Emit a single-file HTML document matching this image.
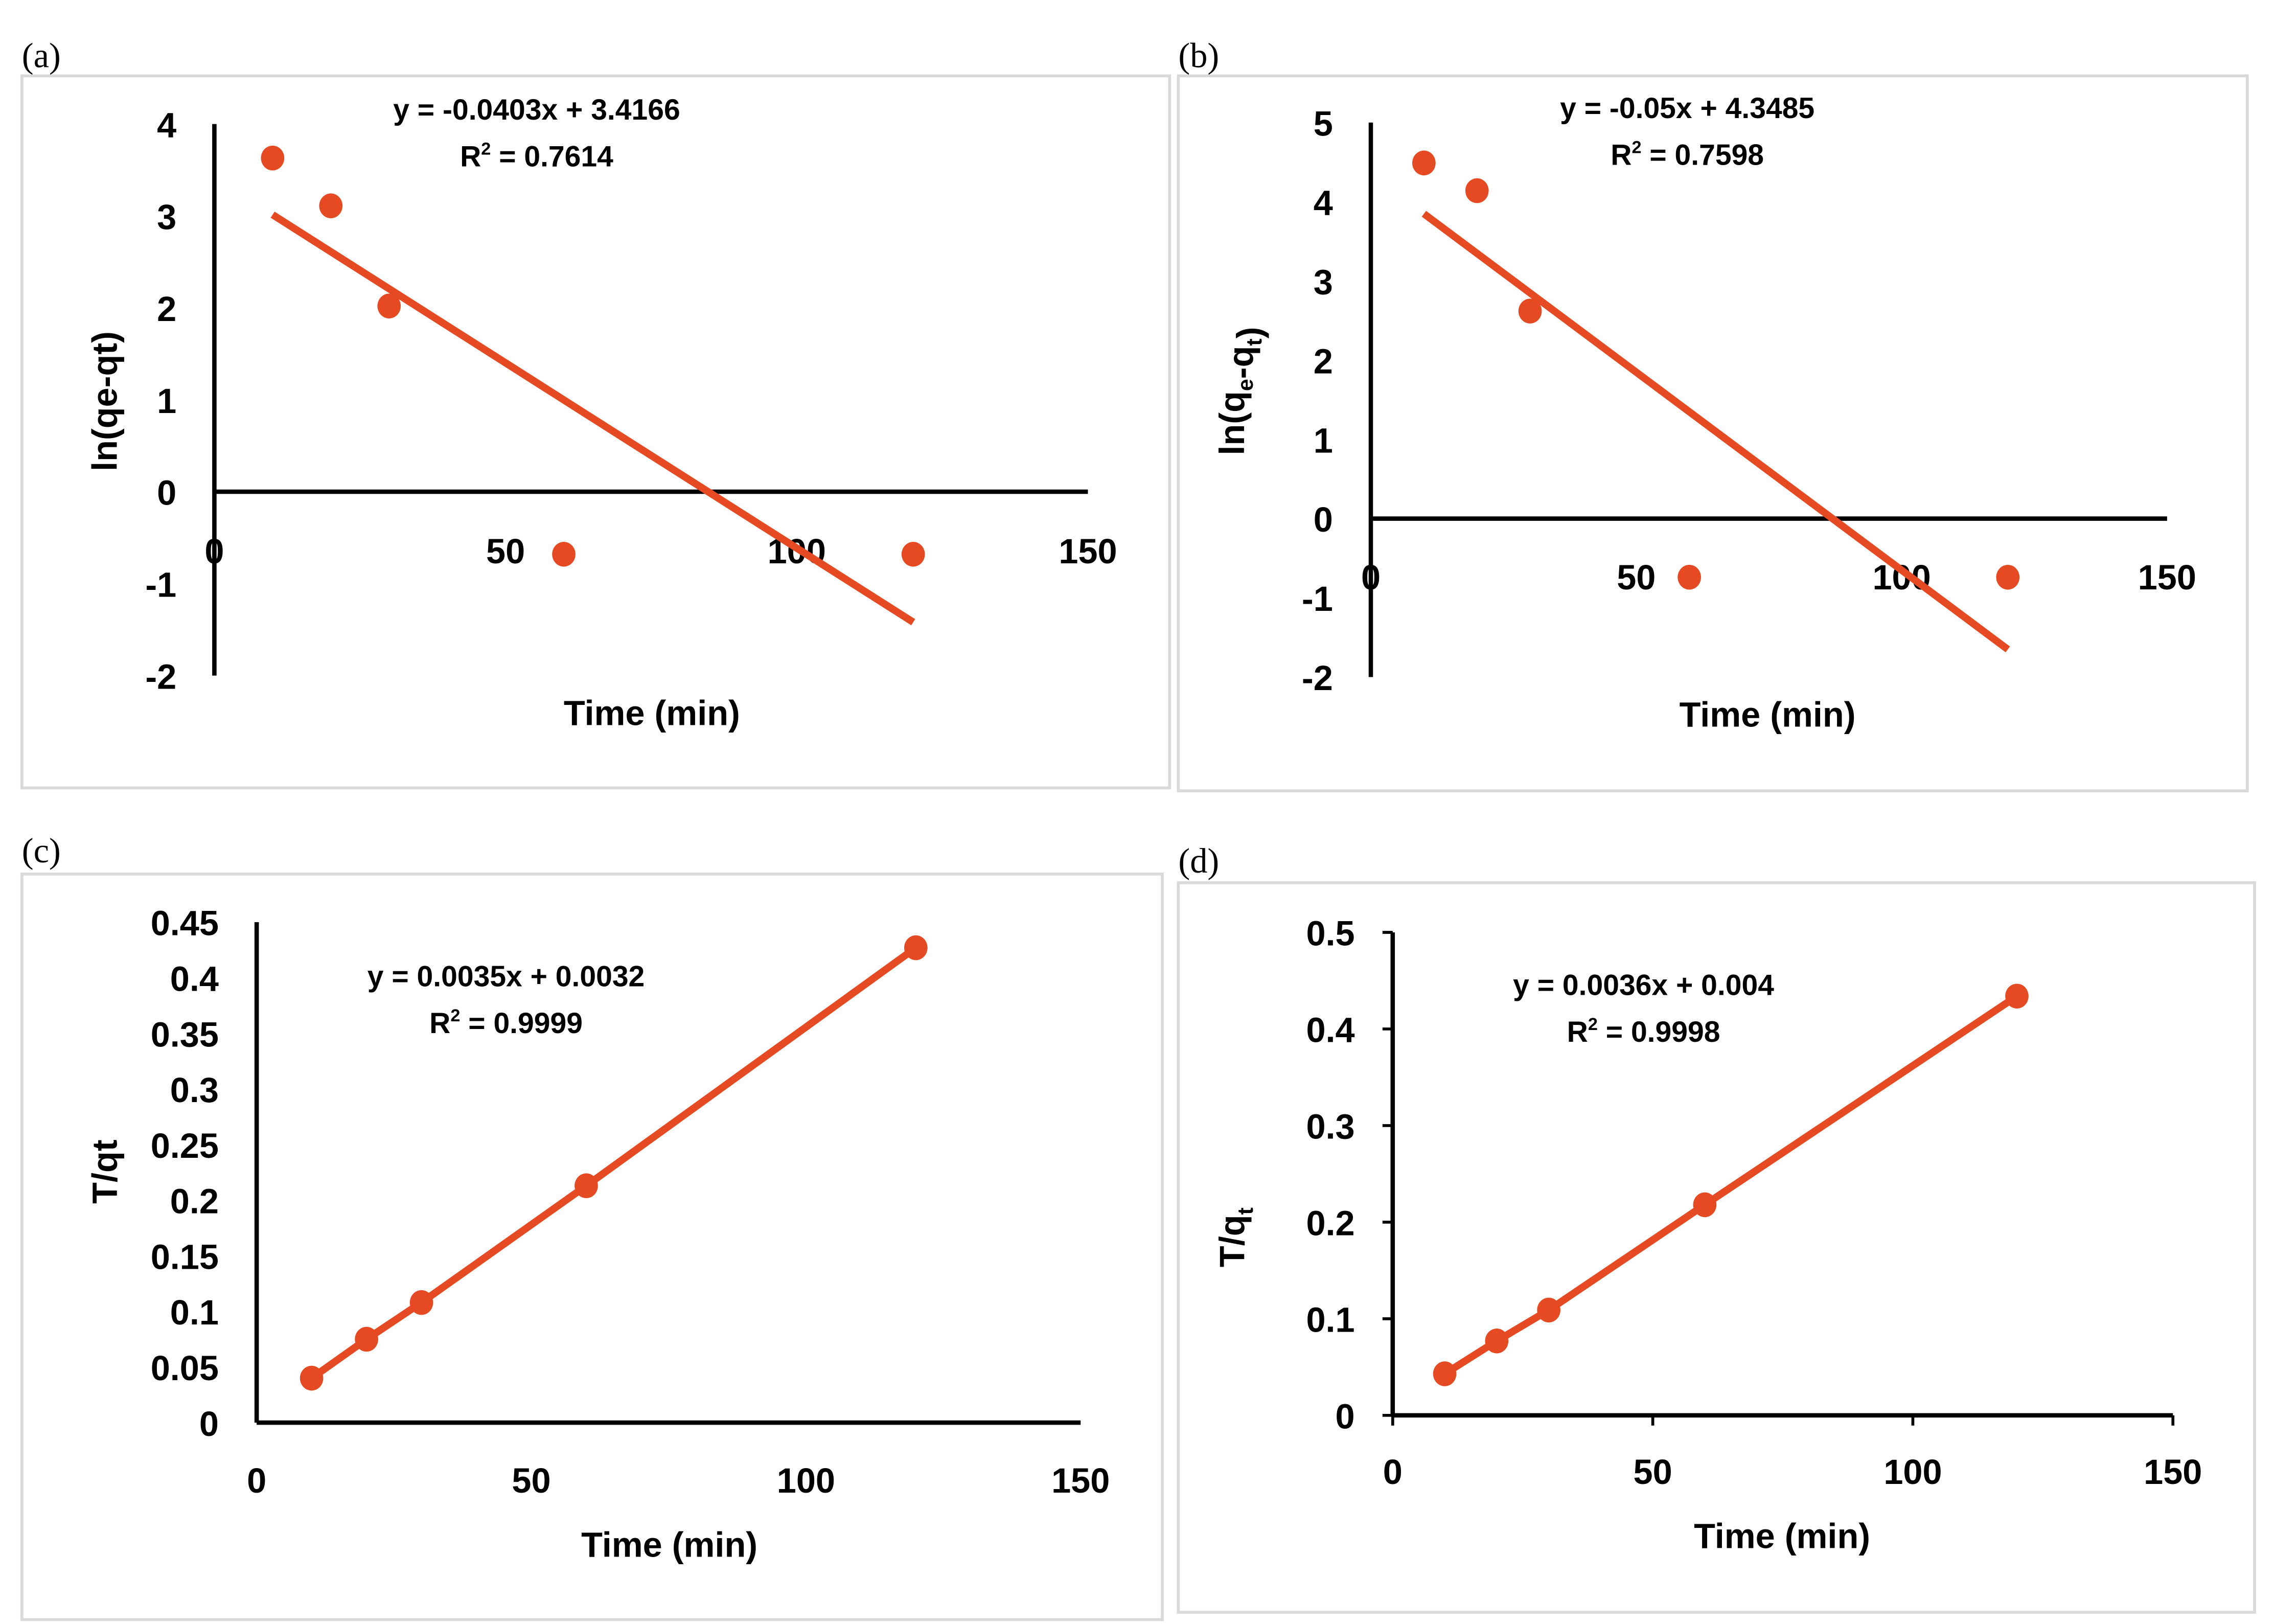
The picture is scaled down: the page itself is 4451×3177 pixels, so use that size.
<!DOCTYPE html>
<html><head><meta charset="utf-8"><style>
html,body{margin:0;padding:0;background:#fff;}
svg{display:block;}
text{font-family:"Liberation Sans",sans-serif;fill:#000;}
.tick{font-size:24px;font-weight:bold;}
.title{font-size:24px;font-weight:bold;}
.eq{font-size:20px;font-weight:bold;}
.plabel{font-family:"Liberation Serif",serif;font-size:24px;}
</style></head><body>
<svg id="fig" width="4451" height="3177" viewBox="0 0 1560 1113" preserveAspectRatio="none" xmlns="http://www.w3.org/2000/svg"></svg>
<script>
// Panel (a) pseudo-first-order
const aTimes = [10, 20, 30, 60, 120];
const aValues = [3.63, 3.11, 2.02, -0.68, -0.68];
const aYTicks = [4, 3, 2, 1, 0, -1, -2];
const aXTicks = [0, 50, 100, 150];
const aFit = [-0.0403, 3.4166];
// Panel (b)
const bTimes = [10, 20, 30, 60, 120];
const bValues = [4.49, 4.14, 2.62, -0.74, -0.74];
const bYTicks = [5, 4, 3, 2, 1, 0, -1, -2];
const bXTicks = [0, 50, 100, 150];
const bFit = [-0.05, 4.3485];
// Panel (c) pseudo-second-order
const cTimes = [10, 20, 30, 60, 120];
const cValues = [0.040, 0.075, 0.108, 0.213, 0.427];
const cYTicks = [0, 0.05, 0.1, 0.15, 0.2, 0.25, 0.3, 0.35, 0.4, 0.45];
const cXTicks = [0, 50, 100, 150];
// Panel (d)
const dTimes = [10, 20, 30, 60, 120];
const dValues = [0.043, 0.077, 0.109, 0.218, 0.434];
const dYTicks = [0, 0.1, 0.2, 0.3, 0.4, 0.5];
const dXTicks = [0, 50, 100, 150];

const NS = "http://www.w3.org/2000/svg";
const svg = document.getElementById('fig');
const ORANGE = "#E64A23";
function mk(tag, attrs, parent, txt) {
  const e = document.createElementNS(NS, tag);
  for (const k in attrs) e.setAttribute(k, attrs[k]);
  if (txt !== undefined) e.textContent = txt;
  (parent || svg).appendChild(e);
  return e;
}
function panel(cfg) {
  const g = mk('g', {});
  
  
  const box = mk('rect', {x: cfg.box[0], y: cfg.box[1], width: cfg.box[2], height: cfg.box[3], fill: 'none', stroke: '#d9d9d9', 'stroke-width': 2}, g);
  
  
  const pl = mk('text', {x: cfg.lab[0], y: cfg.lab[1], class: 'plabel'}, g, '(' + cfg.id + ')');
  
  
  const xs = v => cfg.x0 + (v - cfg.xmin) / (cfg.xmax - cfg.xmin) * (cfg.x1 - cfg.x0);
  const ys = v => cfg.y0 - (v - cfg.ymin) / (cfg.ymax - cfg.ymin) * (cfg.y0 - cfg.y1);
  const ya = mk('line', {x1: cfg.x0, x2: cfg.x0, y1: ys(cfg.ymin), y2: ys(cfg.ymax), stroke: '#000', 'stroke-width': 3}, g);
  
  
  const xa = mk('line', {x1: cfg.x0, x2: cfg.x1, y1: ys(0), y2: ys(0), stroke: '#000', 'stroke-width': 3}, g);
  
  
  cfg.yTicks.forEach(t => {
    const lt = mk('text', {x: cfg.x0 - 26, y: ys(t) + 9, class: 'tick', 'text-anchor': 'end'}, g, String(t));
    
    
    if (cfg.ticks) {
      const tm = mk('line', {x1: cfg.x0 - 7, x2: cfg.x0, y1: ys(t), y2: ys(t), stroke: '#000', 'stroke-width': 2}, g);
      
      
    }
  });
  cfg.xTicks.forEach(t => {
    const lt = mk('text', {x: xs(t), y: cfg.xLabY, class: 'tick', 'text-anchor': 'middle'}, g, String(t));
    
    
    if (cfg.ticks) {
      const tm = mk('line', {x1: xs(t), x2: xs(t), y1: ys(0), y2: ys(0) + 7, stroke: '#000', 'stroke-width': 2}, g);
      
      
    }
  });
  const tx0 = cfg.times[0], tx1 = cfg.times[cfg.times.length - 1];
  if (cfg.fit) {
    const ly0 = cfg.fit[0] * tx0 + cfg.fit[1], ly1 = cfg.fit[0] * tx1 + cfg.fit[1];
    const tl = mk('line', {x1: xs(tx0), y1: ys(ly0), x2: xs(tx1), y2: ys(ly1), stroke: ORANGE, 'stroke-width': 5}, g);
    
    
  } else {
    const pts = cfg.times.map((t, i) => xs(t) + ',' + ys(cfg.values[i])).join(' ');
    const pl2 = mk('polyline', {points: pts, fill: 'none', stroke: ORANGE, 'stroke-width': 5}, g);
    
    
  }
  cfg.times.forEach((t, i) => {
    const c = mk('ellipse', {cx: xs(t), cy: ys(cfg.values[i]), rx: 8, ry: 8.5, fill: ORANGE}, g);
    
    
  });
  const e1 = mk('text', {x: cfg.eq[0], y: cfg.eq[1], class: 'eq', 'text-anchor': 'middle'}, g, cfg.eqText);
  
  
  const e2 = mk('text', {x: cfg.eq[0], y: cfg.eq[1] + 32, class: 'eq', 'text-anchor': 'middle'}, g);
  
  
  mk('tspan', {}, e2, 'R');
  mk('tspan', {dy: -8, 'font-size': 12}, e2, '2');
  mk('tspan', {dy: 8}, e2, ' = ' + cfg.r2);
  const xt = mk('text', {x: cfg.xt[0], y: cfg.xt[1], class: 'title', 'text-anchor': 'middle'}, g, 'Time (min)');
  
  
  const yt = mk('text', {x: 0, y: 0, class: 'title', 'text-anchor': 'middle', transform: 'translate(' + cfg.yt[0] + ',' + cfg.yt[1] + ') rotate(-90)'}, g);
  
  
  cfg.ytParts.forEach(p => {
    if (p[1]) { mk('tspan', {dy: 6, 'font-size': 15}, yt, p[0]); mk('tspan', {dy: -6}, yt, ''); }
    else mk('tspan', {}, yt, p[0]);
  });
}
panel({id: 'a', box: [15, 52, 787, 488], lab: [15, 46], x0: 147, x1: 746, xmin: 0, xmax: 150, y0: 463, y1: 85, ymin: -2, ymax: 4,
  times: aTimes, values: aValues, yTicks: aYTicks, xTicks: aXTicks, fit: aFit, xLabY: 386,
  eq: [368, 82], eqText: 'y = -0.0403x + 3.4166', r2: '0.7614', xt: [447, 497], yt: [80, 275], ytParts: [['ln(qe-qt)']]});
panel({id: 'b', box: [808, 52, 733, 490], lab: [808, 46], x0: 940, x1: 1486, xmin: 0, xmax: 150, y0: 464, y1: 84, ymin: -2, ymax: 5,
  times: bTimes, values: bValues, yTicks: bYTicks, xTicks: bXTicks, fit: bFit, xLabY: 404,
  eq: [1157, 81], eqText: 'y = -0.05x + 4.3485', r2: '0.7598', xt: [1212, 498], yt: [853, 268], ytParts: [['ln(q'], ['e', 1], ['-q'], ['t', 1], [')']]});
panel({id: 'c', box: [15, 599, 782, 511], lab: [15, 591], x0: 176, x1: 741, xmin: 0, xmax: 150, y0: 975, y1: 632, ymin: 0, ymax: 0.45,
  times: cTimes, values: cValues, yTicks: cYTicks, xTicks: cXTicks, fit: null, xLabY: 1023,
  eq: [347, 676], eqText: 'y = 0.0035x + 0.0032', r2: '0.9999', xt: [459, 1067], yt: [80, 803], ytParts: [['T/qt']]});
panel({id: 'd', box: [808, 605, 738, 500], lab: [808, 598], x0: 955, x1: 1490, xmin: 0, xmax: 150, y0: 970, y1: 639, ymin: 0, ymax: 0.5, ticks: true,
  times: dTimes, values: dValues, yTicks: dYTicks, xTicks: dXTicks, fit: null, xLabY: 1017,
  eq: [1127, 682], eqText: 'y = 0.0036x + 0.004', r2: '0.9998', xt: [1222, 1061], yt: [853, 848], ytParts: [['T/q'], ['t', 1]]});
</script>
</body></html>
